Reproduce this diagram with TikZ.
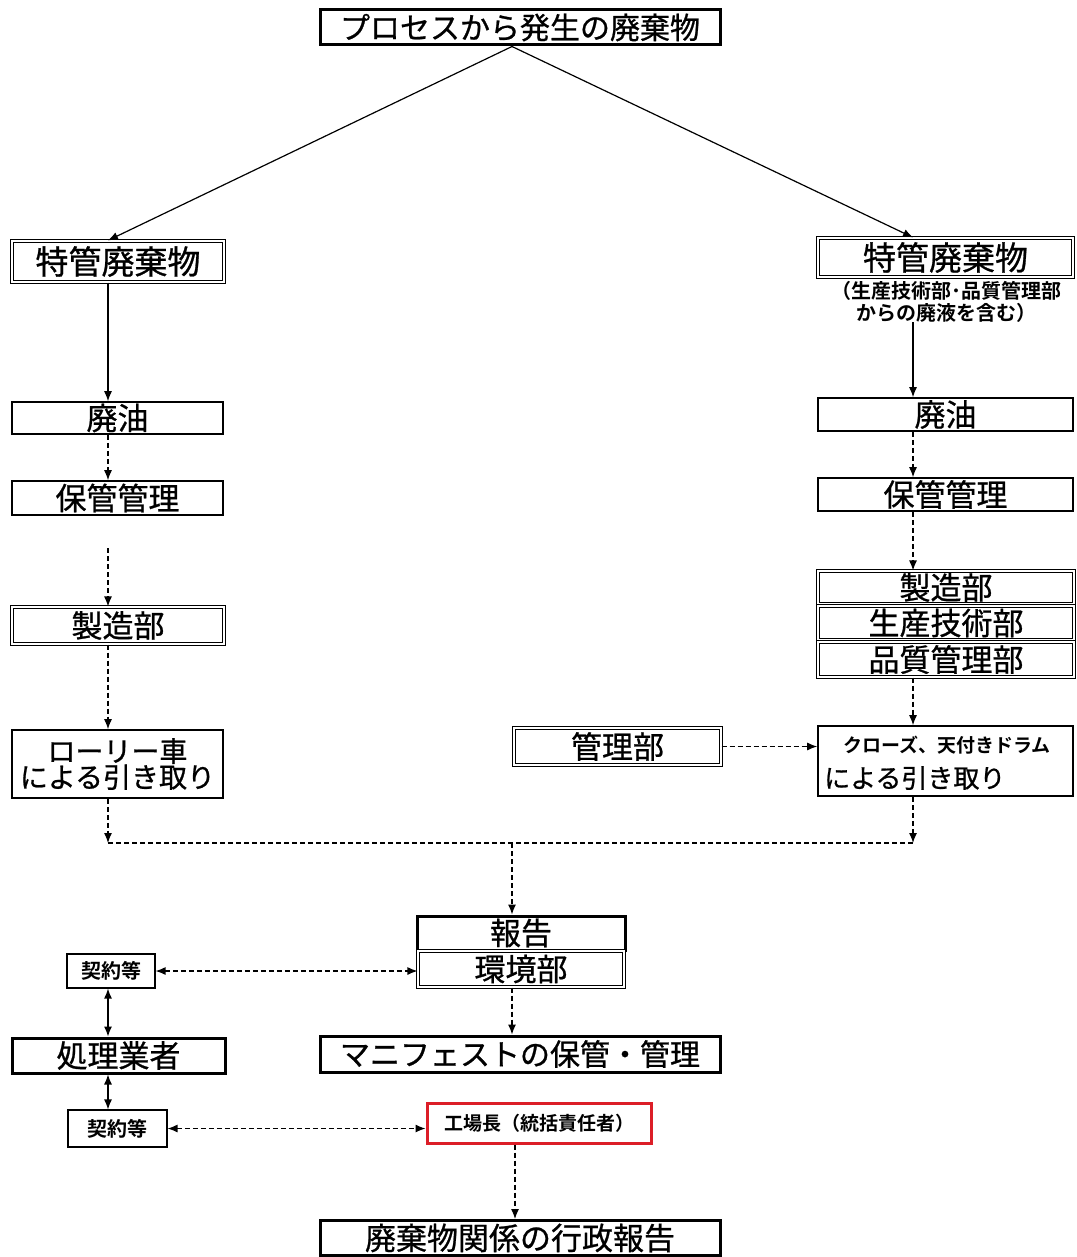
\documentclass[tikz,border=0pt]{standalone}
\usepackage{fontspec}
\setmainfont{Noto Sans CJK JP}
\newfontfamily\jp{Noto Sans CJK JP}[FakeBold=0.8]
\newfontfamily\jpb{Noto Sans CJK JP Bold}
\usetikzlibrary{arrows.meta,calc}
\newcommand{\fs}[1]{\fontsize{#1}{#1}\selectfont}
\tikzset{
  bx/.style={draw, line width=1.6pt, inner sep=0pt, align=center, font=\jp\fs{31}},
  sgl/.style={bx},
  dbl/.style={bx, double, double distance=2pt, line width=1.1pt},
  thk/.style={bx, line width=3pt},
  arr/.style={-{Latex[length=10pt,width=8pt]}, line width=1.2pt},
  darr/.style={arr, dash pattern=on 5pt off 3pt},
  barr/.style={{Latex[length=10pt,width=8pt]}-{Latex[length=10pt,width=8pt]}, line width=1.2pt},
  dbarr/.style={barr, dash pattern=on 5pt off 3pt},
}
\begin{document}
\begin{tikzpicture}[x=1pt,y=-1pt]
\useasboundingbox (0,0) rectangle (1076,1257);
\coordinate (colL) at (108,0);
\coordinate (colR) at (913,0);
\coordinate (colM) at (512,0);

\node[thk, minimum width=400pt, minimum height=35pt, font=\jp\fs{30}] (top) at (520,27.5) {プロセスから発生の廃棄物};

\node[dbl, minimum width=212pt, minimum height=41pt, font=\jp\fs{33}] (lTok) at (118,261.5) {特管廃棄物};
\node[dbl, minimum width=255pt, minimum height=39pt, font=\jp\fs{33}] (rTok) at (945.5,257.5) {特管廃棄物};
\node[inner sep=0pt, align=center, font=\jpb\fs{20}] (rSub) at (946,301.5) {（生産技術部･品質管理部\\[2pt]からの廃液を含む）};

\node[sgl, minimum width=211pt, minimum height=32pt] (lHaiyu) at (117.5,418) {廃油};
\node[sgl, minimum width=255pt, minimum height=33pt] (rHaiyu) at (945.5,414.5) {廃油};
\node[sgl, minimum width=211pt, minimum height=34pt] (lHokan) at (117.5,498) {保管管理};
\node[sgl, minimum width=255pt, minimum height=33pt] (rHokan) at (945.5,494.5) {保管管理};

\node[dbl, minimum width=212pt, minimum height=37pt] (lSeizo) at (118,625.5) {製造部};
\node[dbl, minimum width=256pt, minimum height=33pt] (rSeizo) at (946,587.5) {製造部};
\node[dbl, minimum width=256pt, minimum height=34pt] (rSeisan) at (946,623) {生産技術部};
\node[dbl, minimum width=256pt, minimum height=35pt] (rHin) at (946,659.5) {品質管理部};

\node[dbl, minimum width=207pt, minimum height=37pt] (kanri) at (617.5,746.5) {管理部};
\node[sgl, minimum width=255pt, minimum height=70pt] (kuro) at (945.5,761) {};
\node[anchor=west, inner sep=0pt, font=\jpb\fs{19}] (kuro1) at (843,745) {クローズ、天付きドラム};
\node[anchor=west, inner sep=0pt, font=\jp\fs{26}] (kuro2) at (824,778) {による引き取り};
\node[sgl, minimum width=211pt, minimum height=68pt, font=\jp\fs{28}] (rolly) at (117.5,764) {ローリー車\\[-2pt]による引き取り};

\node[thk, minimum width=208pt, minimum height=34pt] (hokoku) at (521,933) {報告};
\node[dbl, minimum width=206pt, minimum height=36pt] (kankyo) at (521,969) {環境部};
\node[sgl, line width=1.1pt, minimum width=88pt, minimum height=34pt, font=\jpb\fs{20}] (kei1) at (111,971) {契約等};
\node[thk, minimum width=213pt, minimum height=35pt] (shori) at (118.5,1055.5) {処理業者};
\node[thk, minimum width=400pt, minimum height=36pt, font=\jp\fs{30}] (mani) at (520,1054) {マニフェストの保管・管理};
\node[sgl, line width=1.1pt, minimum width=99pt, minimum height=37pt, font=\jpb\fs{20}] (kei2) at (117.5,1128.5) {契約等};
\node[sgl, draw={rgb,255:red,220;green,30;blue,40}, line width=3pt, minimum width=224pt, minimum height=40pt, font=\jpb\fs{19}] (kojo) at (539,1123) {工場長（統括責任者）};
\node[thk, minimum width=400pt, minimum height=35pt] (gyosei) at (520,1238) {廃棄物関係の行政報告};

% connectors
\draw[arr] ([xshift=-8pt]top.south) -- (lTok.north -| colL);
\draw[arr] ([xshift=-8pt]top.south) -- (rTok.north -| colR);
\draw[arr] (lTok.south -| colL) -- (lHaiyu.north -| colL);
\draw[arr] (rSub.south -| colR) -- (rHaiyu.north -| colR);
\draw[darr] (lHaiyu.south -| colL) -- (lHokan.north -| colL);
\draw[darr] (rHaiyu.south -| colR) -- (rHokan.north -| colR);
\coordinate (lgap) at (108,548);
\draw[darr] (lgap) -- (lSeizo.north -| colL);
\draw[darr] (rHokan.south -| colR) -- (rSeizo.north -| colR);
\draw[darr] (lSeizo.south -| colL) -- (rolly.north -| colL);
\draw[darr] (rHin.south -| colR) -- (kuro.north -| colR);
\draw[darr] (kanri.east) -- (kanri.east -| kuro.west);

\coordinate (jL) at (108,843);
\coordinate (jR) at (913,843);
\coordinate (jM) at (512,843);
\draw[line width=1.2pt, dash pattern=on 5pt off 3pt] (jL) -- (jR);
\draw[darr] (rolly.south -| colL) -- (jL);
\draw[darr] (kuro.south -| colR) -- (jR);
\draw[darr] (jM) -- (hokoku.north -| jM);

\draw[dbarr] (kei1.east) -- (kei1.east -| kankyo.west);
\draw[barr] (kei1.south -| colL) -- (shori.north -| colL);
\draw[barr] (shori.south -| colL) -- (kei2.north -| colL);
\draw[dbarr] (kei2.east) -- (kei2.east -| kojo.west);
\draw[darr] (kankyo.south -| colM) -- (mani.north -| colM);
\draw[darr] ([xshift=-24pt]kojo.south) -- ([xshift=-24pt]kojo.south |- gyosei.north);
\end{tikzpicture}
\end{document}
